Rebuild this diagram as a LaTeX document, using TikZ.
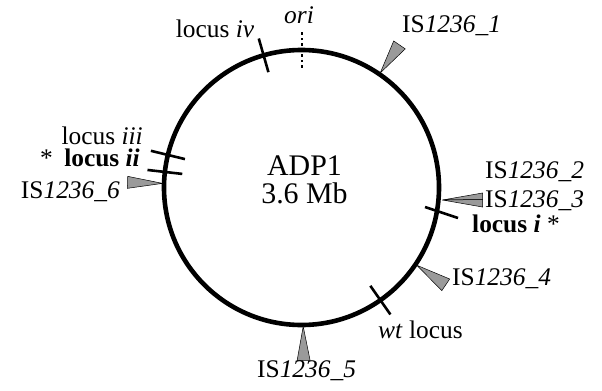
\documentclass[tikz,border=0pt]{standalone}
\usepackage{fontspec}
\setmainfont{Liberation Serif}
\definecolor{isgray}{HTML}{9A9A9A}
\newcommand\iswedge[3]{% angle, half width of base, outer radius
  \draw[iswedge,rotate=#1] (139,0) -- (#3,#2) -- (#3,-#2) -- cycle;}
\newcommand\locusmark[1]{\draw[locustick,rotate=#1] (120,0) -- (155,0);}
\begin{document}
\begin{tikzpicture}[x=1bp,y=1bp,
  lab/.style={font=\fontsize{25.5}{28}\selectfont, inner sep=0pt, text=black},
  big/.style={font=\fontsize{30}{32}\selectfont, inner sep=0pt},
  iswedge/.style={fill=isgray, draw=black, line width=0.5bp, line join=miter},
  locustick/.style={line width=2.6bp}]
\useasboundingbox (-301.5,-202.5) rectangle (300.5,187.5);

% chromosome
\draw[line width=4.6bp] (0,0) circle (137.5);

% origin of replication
\draw[line width=2.2bp, dash pattern=on 2.2bp off 3.3bp] (0.5,120) -- (0.5,156);

% loci
\locusmark{106}
\locusmark{166.3}
\locusmark{173.5}
\locusmark{-55}
\draw[locustick] (123.5,-19.5) -- (156.5,-30.5);

% insertion sequences
\iswedge{55.5}{7}{173}
\iswedge{178.3}{6}{174}
\iswedge{-34}{7}{174}
\iswedge{-89.3}{6.5}{173}
\draw[iswedge] (141,-12.5) -- (181,-5.5) -- (181,-12) -- cycle;
\draw[iswedge] (141,-12.5) -- (181,-12) -- (181,-19.5) -- cycle;

% centre label
\node[big, anchor=base] (name) at (3,12.5) {ADP1};
\node[big, anchor=base] (size) at (3,-15.5) {3.6 Mb};

% labels
\node[lab, anchor=base] (ori) at (-2.5,164.5) {\textit{ori}};
\node[lab, anchor=base] (liv) at (-86.5,150) {locus \textit{iv}};
\node[lab, anchor=base west] (is1) at (100.5,155.5) {IS\textit{1236\_1}};
\node[lab, anchor=base east] (liii) at (-158.5,43.5) {locus \textit{iii}};
\node[lab, anchor=base east] (lii) at (-161.5,20.8) {*\hspace{0.45em}\textbf{locus \textit{ii}}};
\node[lab, anchor=base east] (is6) at (-181.5,-10.5) {IS\textit{1236\_6}};
\node[lab, anchor=base west] (is2) at (183.5,9.5) {IS\textit{1236\_2}};
\node[lab, anchor=base west] (is3) at (183.5,-19.5) {IS\textit{1236\_3}};
\node[lab, anchor=base west] (li) at (170.5,-44.5) {\textbf{locus \textit{i}} *};
\node[lab, anchor=base west] (is4) at (150.5,-97.5) {IS\textit{1236\_4}};
\node[lab, anchor=base west] (wt) at (76.5,-150.5) {\textit{wt} locus};
\node[lab, anchor=base west] (is5) at (-44.5,-189.5) {IS\textit{1236\_5}};
\end{tikzpicture}
\end{document}
